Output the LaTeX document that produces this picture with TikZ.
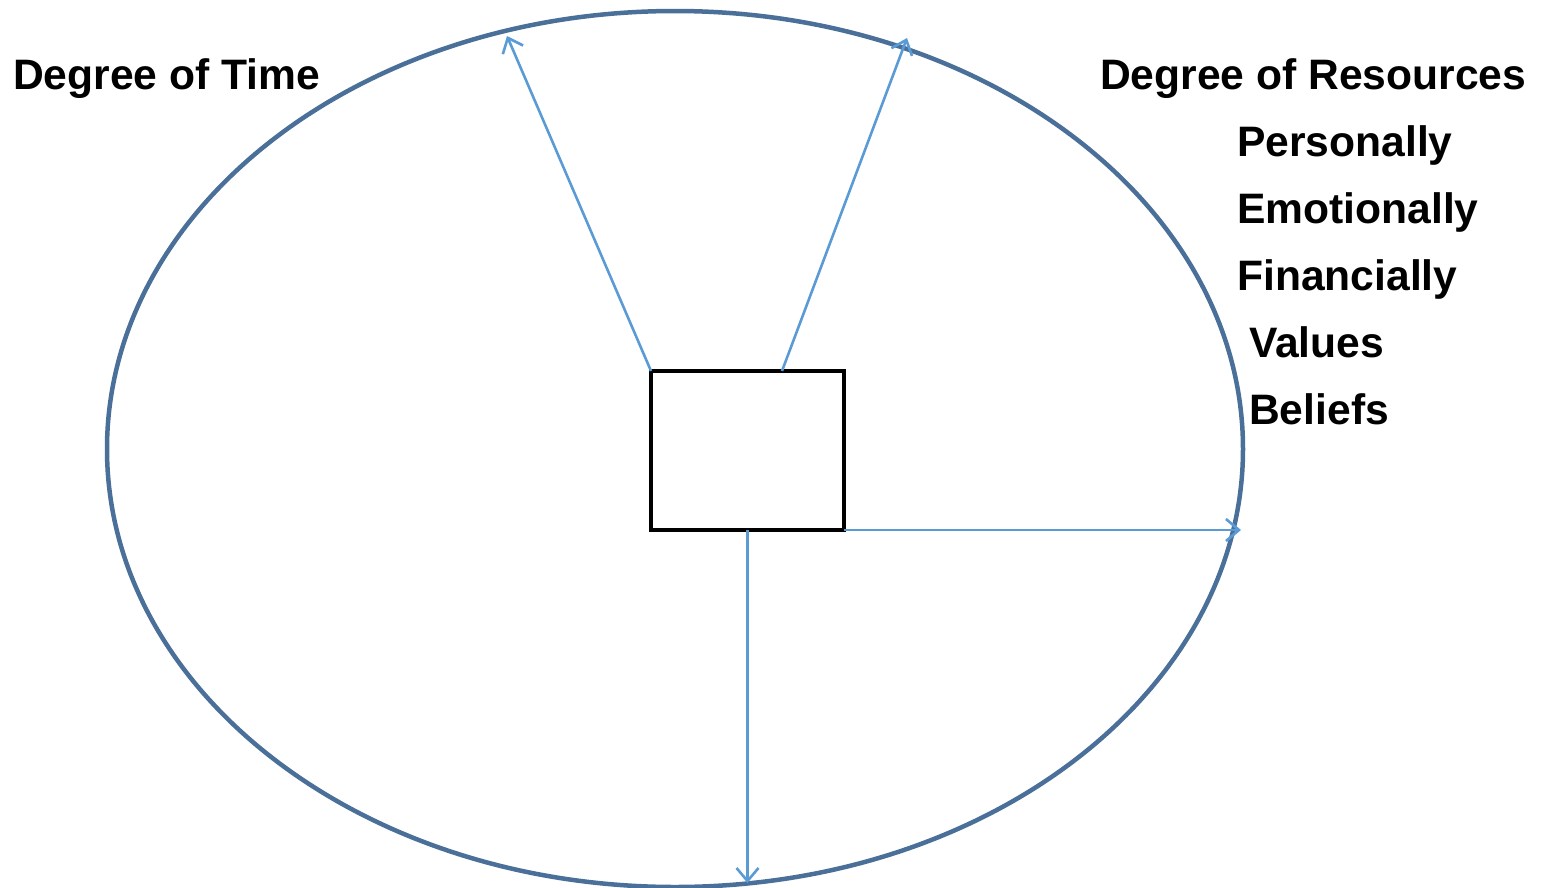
\documentclass[tikz,border=0pt]{standalone}
\usepackage{fontspec}
\setmainfont{Liberation Sans}
\usetikzlibrary{arrows.meta}
\definecolor{ellblue}{HTML}{4A7099}
\definecolor{arrblue}{HTML}{5B9BD5}
\tikzset{
  lbl/.style={anchor=base west, inner sep=0pt, font=\fontsize{42.6}{50}\selectfont\bfseries},
  conn/.style={draw=arrblue, line width=2.6pt, -{Straight Barb[length=13pt,width=22pt,line width=2.6pt]}},
  centerbox/.style={draw=black, line width=4.5pt, minimum width=193pt, minimum height=159pt, inner sep=0pt, outer sep=0pt},
}
\begin{document}
\begin{tikzpicture}[x=1pt,y=-1pt]
\useasboundingbox (0,0) rectangle (1543,887);
\draw[ellblue, line width=4.5pt] (675,449) ellipse [x radius=568, y radius=438];
\node[centerbox] (box) at (747.5,450.5) {};
\coordinate (t1) at (507,36);
\coordinate (t2) at (907,38);
\coordinate (t3x) at (1241,0);
\coordinate (t4) at (747.5,883);
\coordinate (s2) at (782,371);
\draw[conn] (box.north west) -- (t1);
\draw[conn] (s2) -- (t2);
\draw[conn] (box.south east) -- (box.south east -| t3x);
\draw[conn] (box.south) -- (t4);
\node[lbl] (time) at (13,89) {Degree of Time};
\node[lbl] (res) at (1100,89) {Degree of Resources};
\node[lbl] (pers) at (1237,156) {Personally};
\node[lbl] (emo) at (1237,223) {Emotionally};
\node[lbl] (fin) at (1237,290) {Financially};
\node[lbl] (val) at (1249,357) {Values};
\node[lbl] (bel) at (1249,424) {Beliefs};
\end{tikzpicture}
\end{document}
